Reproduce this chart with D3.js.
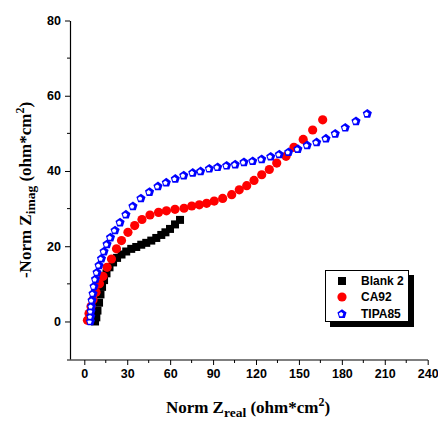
<!DOCTYPE html>
<html><head><meta charset="utf-8">
<script src="https://cdn.jsdelivr.net/npm/d3@7"></script>
<style>body{margin:0;background:#fff}svg{display:block}</style>
</head><body>
<svg id="c" width="438" height="423"></svg>
<script>
// ---- data ----
const blankX = [7.5,8.4,9.2,10.3,11.3,12.4,13.8,15.5,17.6,20.1,22.9,26.0,29.3,32.8,36.3,39.8,43.3,46.8,50.3,53.8,56.7,59.9,63.4,66.9];
const blankY = [0,1.1,2.9,5.0,7.2,9.2,11.0,12.8,14.4,15.7,16.9,17.8,18.6,19.3,19.8,20.4,20.9,21.5,22.2,23.0,23.7,24.6,25.8,27.0];

const ca92X = [2.2,3.3,4.7,6.1,8.2,10.6,13.1,15.9,19.0,22.5,26.0,30.5,35.2,40.3,45.9,51.9,57.4,63.4,69.7,75.1,80.4,85.5,90.8,96.7,103.0,108.3,113.5,118.6,124.0,129.3,134.5,141.0,146.5,153.0,159.6,166.6];
const ca92Y = [0.3,2.1,4.0,5.8,7.8,10.0,12.0,14.4,16.6,19.3,21.5,23.7,25.5,27.1,28.3,29.0,29.4,29.8,30.1,30.7,31.0,31.4,32.0,32.7,33.7,35.0,36.1,37.5,39.0,40.4,42.1,43.9,46.3,48.4,50.9,53.6];

const tipaX = [4.3,4.5,4.7,5.0,5.4,6.1,6.8,7.8,8.9,10.3,12.0,13.8,15.9,18.3,21.5,25.0,29.1,34.0,39.6,45.6,51.5,57.3,63.6,69.5,75.8,81.3,87.4,93.2,99.5,105.5,111.6,117.7,124.0,130.3,136.3,142.8,149.3,155.8,162.4,168.9,175.4,182.4,189.9,197.8];
const tipaY = [0,1.3,2.7,4.0,5.6,7.4,9.3,11.2,13.0,14.9,16.7,18.6,20.5,22.3,24.2,26.3,28.4,30.6,32.7,34.4,35.9,36.9,37.9,38.8,39.5,39.9,40.6,41.0,41.4,41.7,42.3,42.6,43.1,43.8,44.4,45.0,45.8,46.8,47.6,48.6,49.9,51.5,53.2,55.2];

const seriesNames = ["Blank 2","CA92","TIPA85"];
const xTicks = [0,30,60,90,120,150,180,210,240];
const xMinor = [15,45,75,105,135,165,195,225];
const yTicks = [0,20,40,60,80];
const yMinor = [10,30,50,70];

// ---- chart ----
const svg = d3.select("#c");
const x = d3.scaleLinear().domain([-10,240]).range([70,427.7]);
const y = d3.scaleLinear().domain([-10,80]).range([359.1,20.5]);
const tickFont = "'Liberation Sans', Arial, sans-serif";
const titleFont = "'Liberation Serif', 'Times New Roman', serif";

// axes
const gx = svg.append("g").attr("transform","translate(0,360)")
  .call(d3.axisBottom(x).tickValues(xTicks).tickSize(5).tickSizeOuter(0).tickPadding(4));
gx.selectAll("text").attr("font-family",tickFont).attr("font-weight","bold").attr("font-size",12.5).attr("fill","#000");
gx.append("g").selectAll("line").data(xMinor).join("line")
  .attr("x1",d=>x(d)).attr("x2",d=>x(d)).attr("y1",0).attr("y2",3).attr("stroke","#000");
gx.select(".domain").attr("d","M67,0H428").attr("stroke-width",1.2);

const gy = svg.append("g").attr("transform","translate(70,0)")
  .call(d3.axisLeft(y).tickValues(yTicks).tickSize(5).tickSizeOuter(0).tickPadding(4));
gy.selectAll("text").attr("font-family",tickFont).attr("font-weight","bold").attr("font-size",12.5).attr("fill","#000");
gy.append("g").selectAll("line").data(yMinor).join("line")
  .attr("y1",d=>y(d)).attr("y2",d=>y(d)).attr("x1",0).attr("x2",-3).attr("stroke","#000");
gy.select(".domain").attr("stroke-width",1.2);

// titles
const xt = svg.append("text").attr("x",248).attr("y",413).attr("text-anchor","middle")
  .attr("font-family",titleFont).attr("font-weight","bold").attr("font-size",17);
xt.append("tspan").text("Norm Z");
xt.append("tspan").attr("dy",4).attr("font-size",13.5).text("real");
xt.append("tspan").attr("dy",-4).text(" (ohm*cm");
xt.append("tspan").attr("dy",-7).attr("font-size",12).text("2");
xt.append("tspan").attr("dy",7).text(")");

const yt = svg.append("text").attr("transform","translate(31,190) rotate(-90)").attr("text-anchor","middle")
  .attr("font-family",titleFont).attr("font-weight","bold").attr("font-size",17);
yt.append("tspan").text("-Norm Z");
yt.append("tspan").attr("dy",4).attr("font-size",13.5).text("imag");
yt.append("tspan").attr("dy",-4).text(" (ohm*cm");
yt.append("tspan").attr("dy",-7).attr("font-size",12).text("2");
yt.append("tspan").attr("dy",7).text(")");

// markers
function pentPts(r){
  const p=[];for(let i=0;i<5;i++){const a=-Math.PI/2+i*2*Math.PI/5;p.push([r*Math.cos(a),r*Math.sin(a)]);}return p;
}
function drawSquare(g,cx,cy){g.append("rect").attr("x",cx-4).attr("y",cy-4).attr("width",8).attr("height",8).attr("fill","#000");}
function drawCircle(g,cx,cy){g.append("circle").attr("cx",cx).attr("cy",cy).attr("r",4.6).attr("fill","#ff0000");}
function drawPent(g,cx,cy){
  const p=pentPts(4.8);
  const gg=g.append("g").attr("transform",`translate(${cx},${cy})`);
  gg.append("polygon").attr("points",p.map(d=>d.join(",")).join(" ")).attr("fill","#0000ff");
  const q=pentPts(2.3).map(d=>[d[0]-0.9,d[1]+0.3]);
  gg.append("polygon").attr("points",q.map(d=>d.join(",")).join(" ")).attr("fill","#fff");
}

const plot = svg.append("g");
const gB = plot.append("g"), gC = plot.append("g"), gT = plot.append("g");
tipaX.forEach((v,i)=>drawPent(gT,x(v),y(tipaY[i])));
ca92X.forEach((v,i)=>drawCircle(gC,x(v),y(ca92Y[i])));
blankX.forEach((v,i)=>drawSquare(gB,x(v),y(blankY[i])));
gT.raise();

// legend
const lg = svg.append("g");
lg.append("rect").attr("x",330).attr("y",275).attr("width",84).attr("height",52).attr("fill","#000");
lg.append("rect").attr("x",325.5).attr("y",270.5).attr("width",83).attr("height",51).attr("fill","#fff").attr("stroke","#000").attr("stroke-width",1);
const rows=[281,297,314];
drawSquare(lg,342,rows[0]);
drawCircle(lg,342,rows[1]);
drawPent(lg,342,rows[2]);
seriesNames.forEach((n,i)=>lg.append("text").attr("x",361).attr("y",rows[i]+4).attr("font-family",tickFont)
  .attr("font-weight","bold").attr("font-size",12).text(n));
</script>
</body></html>
